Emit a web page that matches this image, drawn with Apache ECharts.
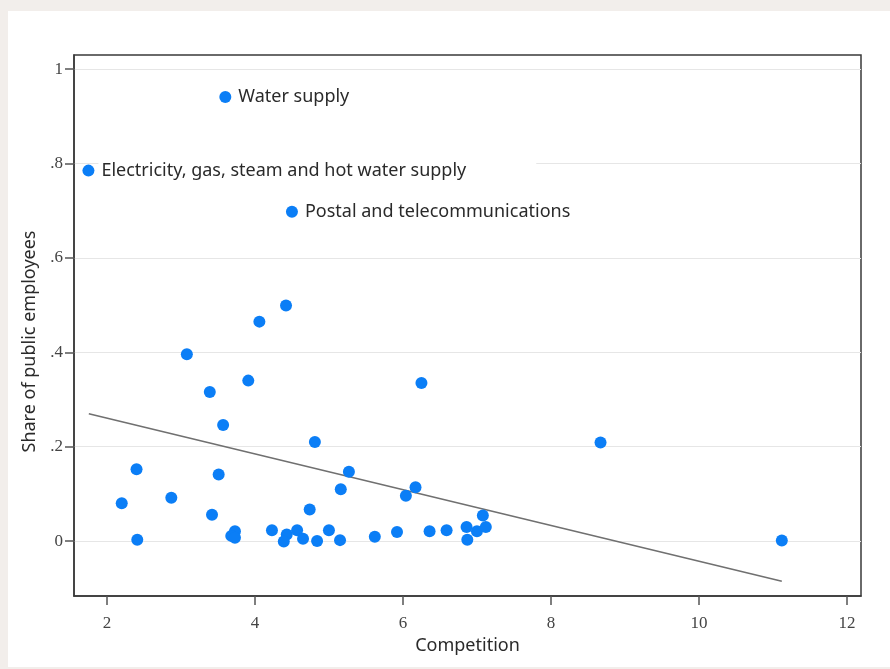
<!DOCTYPE html>
<html>
<head>
<meta charset="utf-8">
<script src="https://cdn.jsdelivr.net/npm/echarts@6/dist/echarts.min.js"></script>
<style>
html,body{margin:0;padding:0;background:#f2eeeb;}
#bg{position:absolute;left:8px;top:11px;width:882px;height:656px;background:#fff;}
#chart{position:absolute;left:0;top:0;width:890px;height:669px;}
</style>
</head>
<body>
<div id="bg"></div>
<div id="chart"></div>
<script>
// Data
const competition = [3.60, 1.75, 4.50, 4.42, 4.06, 3.08, 3.39, 3.91, 3.57, 6.25, 8.67, 4.81, 2.40, 3.51, 5.27, 5.16, 6.17, 6.04, 2.20, 2.87, 3.42, 4.74, 7.08, 2.41, 3.73, 3.68, 3.73, 4.23, 4.43, 4.39, 4.57, 4.65, 4.84, 5.00, 5.15, 5.62, 5.92, 6.36, 6.59, 6.86, 6.87, 7.00, 7.12, 11.12];
const sharePublic = [0.941, 0.785, 0.698, 0.499, 0.465, 0.396, 0.316, 0.340, 0.246, 0.335, 0.209, 0.210, 0.152, 0.141, 0.147, 0.110, 0.114, 0.096, 0.080, 0.092, 0.056, 0.067, 0.054, 0.003, 0.021, 0.011, 0.007, 0.023, 0.014, -0.001, 0.023, 0.005, 0.000, 0.023, 0.002, 0.009, 0.019, 0.021, 0.023, 0.030, 0.003, 0.021, 0.030, 0.001];
const pointNames = ['Water supply', 'Electricity, gas, steam and hot water supply', 'Postal and telecommunications'];
const fitX = [1.755, 11.12];
const fitY = [0.270, -0.085];
const xTicks = [2, 4, 6, 8, 10, 12];
const yTicks = [0, 0.2, 0.4, 0.6, 0.8, 1];

const pts = competition.map((x, i) => {
  const d = { value: [x, sharePublic[i]], name: pointNames[i] || '' };
  if (pointNames[i]) {
    d.label = {
      show: true, position: 'right', distance: 4, formatter: '{b}',
      fontFamily: 'Noto Sans', fontSize: 18, color: '#2a2a2a',
      backgroundColor: '#fff', padding: i === 1 ? [1, 70, 1, 3] : [1, 3]
    };
  }
  return d;
});
const fit = fitX.map((x, i) => [x, fitY[i]]);

const chart = echarts.init(document.getElementById('chart'), null, { renderer: 'canvas' });
const tickFont = { fontFamily: 'Liberation Serif', fontSize: 17, color: '#444' };
chart.setOption({
  backgroundColor: 'transparent',
  animation: false,
  grid: { left: 74, right: 29, top: 55, bottom: 73, show: true, borderColor: '#3a3a3a', borderWidth: 1.5, backgroundColor: 'transparent' },
  xAxis: {
    type: 'value', min: 1.555, max: 12.19,
    name: 'Competition', nameLocation: 'middle', nameGap: 33,
    nameTextStyle: { fontFamily: 'Noto Sans', fontSize: 18, color: '#2a2a2a' },
    axisLine: { show: true, onZero: false, lineStyle: { color: '#3a3a3a', width: 1.5 } },
    axisTick: { show: true, length: 9, customValues: xTicks, lineStyle: { color: '#555', width: 1.5 } },
    axisLabel: Object.assign({ customValues: xTicks, margin: 19 }, tickFont),
    splitLine: { show: false }
  },
  yAxis: {
    type: 'value', min: -0.1164, max: 1.030,
    name: 'Share of public employees', nameLocation: 'middle', nameGap: 29,
    nameTextStyle: { fontFamily: 'Noto Sans', fontSize: 18, color: '#2a2a2a', padding: [0, 32, 0, 0] },
    axisLine: { show: true, onZero: false, lineStyle: { color: '#3a3a3a', width: 1.5 } },
    axisTick: { show: true, length: 9, customValues: yTicks, lineStyle: { color: '#555', width: 1.5 } },
    axisLabel: Object.assign({ customValues: yTicks, margin: 11,
      formatter: v => (Math.abs(v) < 1e-9 ? '0' : Math.abs(v - 1) < 1e-9 ? '1' : String(+v.toFixed(1)).replace('0.', '.')) }, tickFont),
    splitLine: { show: false }
  },
  series: [
    {
      type: 'line', data: [], silent: true, z: 0,
      markLine: {
        silent: true, symbol: 'none', label: { show: false }, z: 0,
        lineStyle: { color: '#e6e6e6', width: 1.2, type: 'solid' },
        data: yTicks.map(v => ({ yAxis: v }))
      }
    },
    {
      type: 'line', data: fit, symbol: 'none', silent: true,
      lineStyle: { color: '#707070', width: 1.6 }, z: 2
    },
    {
      type: 'scatter', data: pts, symbol: 'circle', symbolSize: 12,
      itemStyle: { color: '#0b7ef6', opacity: 1 },
      label: { show: false },
      z: 3
    }
  ]
});
</script>
</body>
</html>
